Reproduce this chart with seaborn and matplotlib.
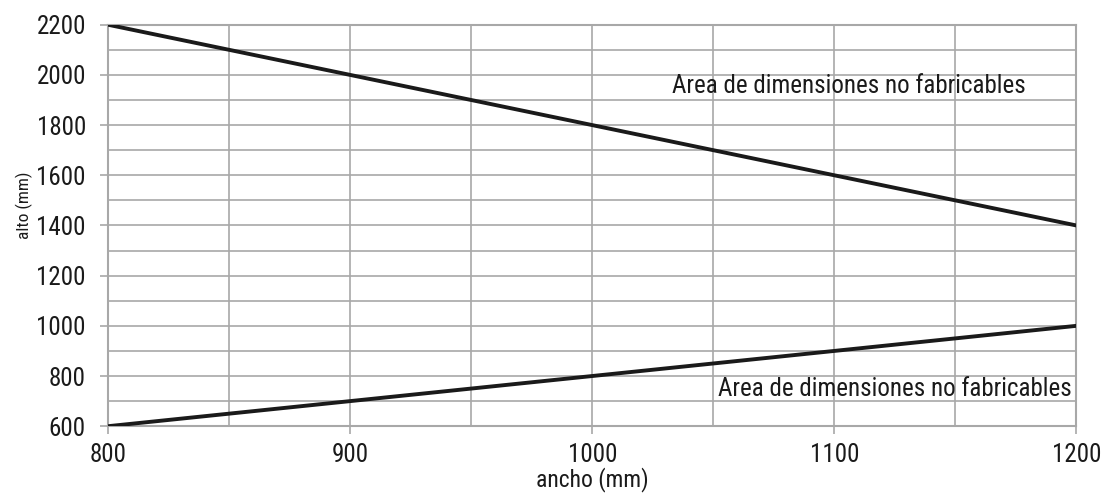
import numpy as np
import pandas as pd
import seaborn as sns
import matplotlib.pyplot as plt
from matplotlib import font_manager

# data
ancho = [800, 1200]
alto_max = [2200, 1400]
alto_min = [600, 1000]
label_text = 'Area de dimensiones no fabricables'

# setup
sns.set_style('white')
names = {f.name for f in font_manager.fontManager.ttflist}
fam = 'DejaVu Sans'
for cand in ['Roboto Condensed', 'Liberation Sans Narrow', 'Arial Narrow', 'Roboto', 'Liberation Sans']:
    if cand in names:
        fam = cand
        break
plt.rcParams['font.family'] = [fam, 'DejaVu Sans']
plt.rcParams['font.stretch'] = 'condensed'

data = pd.DataFrame({'ancho': ancho + ancho,
                     'alto': alto_max + alto_min,
                     'linea': ['max', 'max', 'min', 'min']})

fig, ax = plt.subplots(figsize=(11.04, 4.95), dpi=100)
fig.subplots_adjust(left=0.098, right=0.975, top=0.95, bottom=0.139)

sns.lineplot(x='ancho', y='alto', units='linea', estimator=None, data=data,
             color='#1a1a1a', linewidth=2.8, ax=ax, zorder=3)

ax.set_xlim(800, 1200)
ax.set_ylim(600, 2200)
ax.set_xticks(np.arange(800, 1201, 100))
ax.set_yticks(np.arange(600, 2201, 200))
ax.set_xticks(np.arange(800, 1201, 50), minor=True)
ax.set_yticks(np.arange(600, 2201, 100), minor=True)
ax.grid(which='both', color='#a8a8a8', linewidth=1.2)
ax.tick_params(which='major', labelsize=18, length=6, color='#a8a8a8',
               width=1.2, labelcolor='#1a1a1a', left=True, bottom=True)
ax.tick_params(axis='y', pad=10)
ax.tick_params(axis='x', pad=6)
ax.tick_params(which='minor', length=0)
for s in ax.spines.values():
    s.set_color('#a8a8a8')
    s.set_linewidth(1.5)

ax.set_xlabel('ancho (mm)', fontsize=17, color='#1a1a1a', labelpad=0)
ax.set_ylabel('alto (mm)', fontsize=12.5, color='#1a1a1a')
ax.yaxis.set_label_coords(-0.078, 0.55)

ax.text(1033, 1929, label_text, fontsize=18, va='baseline', color='#1a1a1a')
ax.text(1052, 720, label_text, fontsize=18, va='baseline', color='#1a1a1a')

plt.savefig('out.png', dpi=100)
